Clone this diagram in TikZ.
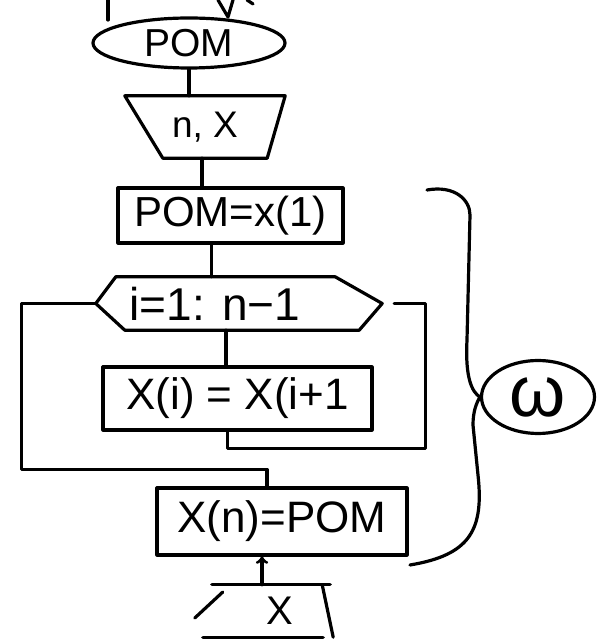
\documentclass[tikz,border=0pt]{standalone}
\usepackage{fontspec}
\setmainfont{Liberation Sans}
\usetikzlibrary{shapes.geometric,calc}
\begin{document}
\begin{tikzpicture}[x=1pt, y=1pt,
    pen/.style={line width=3.2pt, line cap=round, line join=round},
    txt/.style={inner sep=0pt, font=\fontsize{42}{46}\selectfont}]
    \useasboundingbox (0,0) rectangle (605,640);

    % 上方残线
    \draw[pen] (108,640) -- (108,620);
    \draw[pen] (218,640) -- (228,623) -- (233,640);
    \draw[pen] (247,640) -- (253,636);

    % 开始
    \node[pen, draw, ellipse, txt, minimum width=192pt, minimum height=50pt,
          font=\fontsize{39}{42}\selectfont] (start) at (189,597) {POM};

    % 输入
    \node[txt, minimum width=160pt, minimum height=62pt,
          font=\fontsize{37}{40}\selectfont] (input) at (205,513) {n, X};
    \draw[pen] (input.north west) -- (input.north east)
        -- ([xshift=-18pt]input.south east) -- ([xshift=38pt]input.south west) -- cycle;
    \draw[pen] (start.south) -- (start.south |- input.north);

    % 赋值
    \node[pen, draw, txt, minimum width=225pt, minimum height=55pt] (assign) at (230.5,424.5) {POM=x(1)};
    \draw[pen] ([xshift=-3pt]input.south) -- ([xshift=-3pt]input.south |- assign.north);

    % 循环
    \node[txt, minimum width=286pt, minimum height=53pt,
          font=\fontsize{46}{50}\selectfont] (loop) at (239,336.5) {i=1: n−1\hspace*{48pt}};
    \draw[pen] (loop.west) -- ([xshift=20pt]loop.north west) -- ([xshift=-47pt]loop.north east)
        -- (loop.east) -- ([xshift=-23pt]loop.south east) -- ([xshift=29pt]loop.south west) -- cycle;
    \draw[pen] ([xshift=-19pt]assign.south) -- ([xshift=-19pt]assign.south |- loop.north);

    % 循环体
    \node[pen, draw, txt, minimum width=269pt, minimum height=63pt,
          font=\fontsize{44}{48}\selectfont] (body) at (237.5,241.5) {X(i) = X(i+1};
    \draw[pen] ([xshift=-13pt]loop.south) -- ([xshift=-13pt]loop.south |- body.north);
    \draw[pen] ([xshift=-10pt]body.south) -- ++(0,-17) -| ([xshift=43pt]loop.east)
        -- ([xshift=12pt]loop.east);

    % 结束赋值
    \node[pen, draw, txt, minimum width=250pt, minimum height=67pt,
          font=\fontsize{44}{48}\selectfont] (final) at (282,118.5) {X(n)=POM};
    \draw[pen] (loop.west) -- ++(-74,0) -- ++(0,-166) -| ([xshift=-15pt]final.north);

    % 输出
    \node[txt, minimum width=140pt, minimum height=52pt,
          font=\fontsize{40}{44}\selectfont] (output) at (270,29) {\hspace*{20pt}X};
    \draw[pen] ([xshift=12pt]output.north west) -- ([xshift=-10pt]output.north east);
    \draw[pen] ([xshift=-18pt]output.north east) -- ([xshift=-7pt]output.south east);
    \draw[pen] ([xshift=3pt]output.south west) -- ([xshift=-17pt]output.south east);
    \draw[pen] ($(output.west)+(-5,-7)$) -- ($(output.west)+(23,19)$);
    \draw[pen, ->] ([xshift=-8pt]output.north) -- ([xshift=-8pt]output.north |- final.south);

    % 花括号与标记
    \node[pen, draw, ellipse, inner sep=0pt, minimum width=113pt, minimum height=73pt,
          font=\fontsize{72}{72}\selectfont] (omega) at (538,243) {ω};
    \draw[pen] (427,450) .. controls (455,455) and (470,440) .. (470,425) -- (467,300)
        .. controls (465,262) and (472,248) .. (omega.west)
        .. controls (476,236) and (473,228) .. (473,215) -- (478,165)
        .. controls (484,110) and (470,85) .. (410,75);
\end{tikzpicture}
\end{document}
